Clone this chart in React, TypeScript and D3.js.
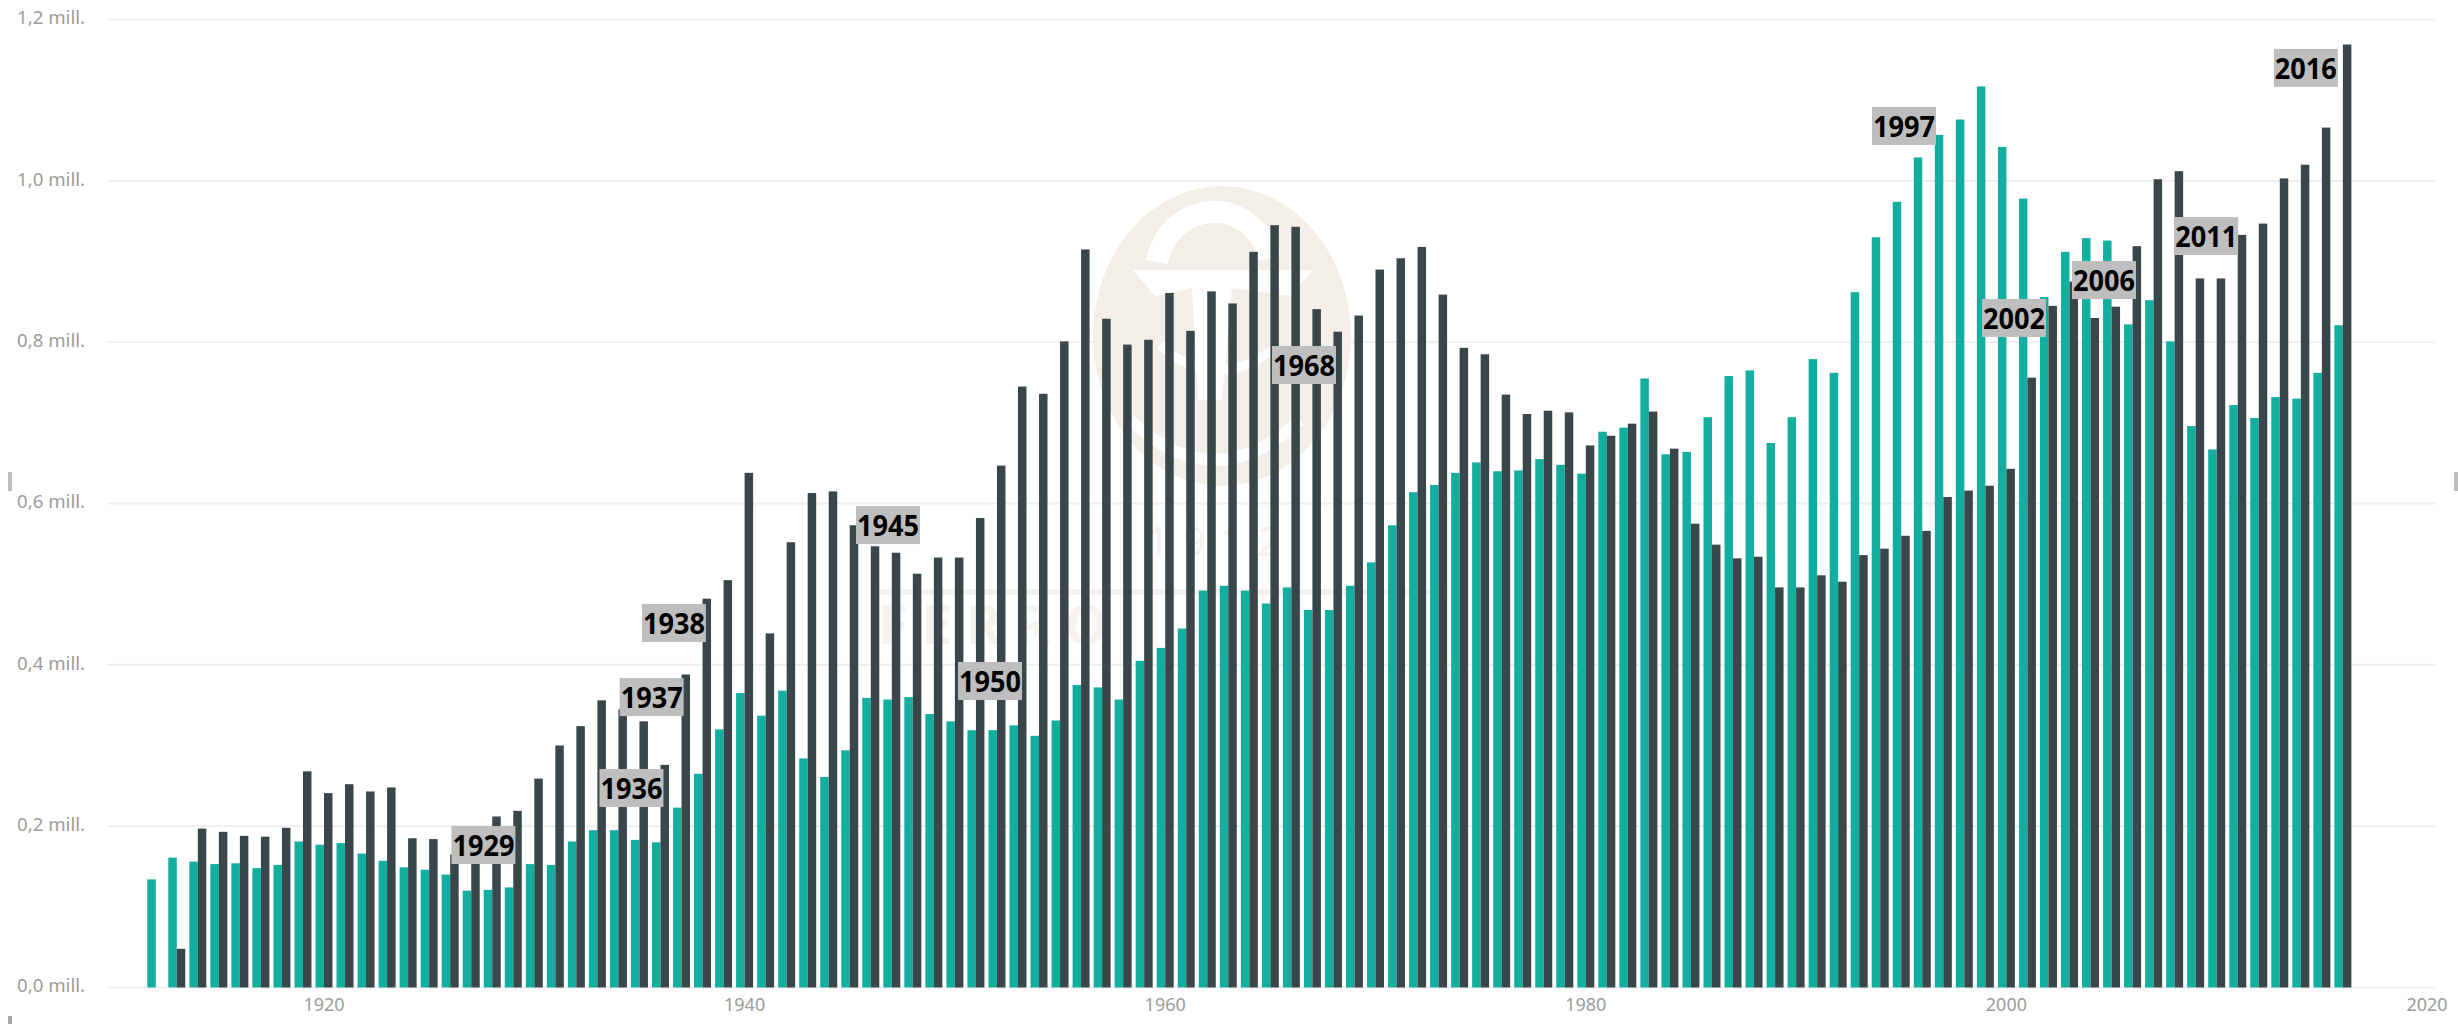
import React from "react";
import * as d3 from "d3";

const firstYear = 1912;
const tealValues = [
  0.134, 0.161, 0.156, 0.153, 0.154, 0.148, 0.152, 0.181, 0.177, 0.179,
  0.166, 0.157, 0.149, 0.146, 0.140, 0.120, 0.121, 0.124, 0.153, 0.152,
  0.181, 0.195, 0.195, 0.183, 0.180, 0.223, 0.265, 0.320, 0.365, 0.337,
  0.368, 0.284, 0.261, 0.294, 0.359, 0.357, 0.360, 0.339, 0.330, 0.319,
  0.319, 0.325, 0.312, 0.331, 0.375, 0.372, 0.357, 0.405, 0.421, 0.445,
  0.492, 0.498, 0.492, 0.476, 0.496, 0.468, 0.468, 0.498, 0.527, 0.573,
  0.614, 0.623, 0.638, 0.651, 0.640, 0.641, 0.655, 0.648, 0.637, 0.689,
  0.694, 0.755, 0.661, 0.664, 0.707, 0.758, 0.765, 0.675, 0.707,
  0.779, 0.762, 0.862, 0.930, 0.974, 1.029, 1.057, 1.076, 1.117, 1.042,
  0.978, 0.856, 0.912, 0.929, 0.926, 0.822, 0.852, 0.801, 0.696, 0.667,
  0.722, 0.706, 0.732, 0.730, 0.762, 0.821,
];
const darkValues = [
  0, 0.048, 0.197, 0.193, 0.188, 0.187, 0.198, 0.268, 0.241, 0.252,
  0.243, 0.248, 0.185, 0.184, 0.165, 0.178, 0.212, 0.219, 0.259, 0.300,
  0.324, 0.356, 0.345, 0.330, 0.276, 0.388, 0.482, 0.505, 0.638, 0.439,
  0.552, 0.613, 0.615, 0.573, 0.547, 0.539, 0.513, 0.533, 0.533, 0.582,
  0.647, 0.745, 0.736, 0.801, 0.915, 0.829, 0.797, 0.803, 0.861, 0.814,
  0.863, 0.848, 0.912, 0.945, 0.943, 0.841, 0.813, 0.833, 0.890, 0.904,
  0.918, 0.859, 0.793, 0.785, 0.735, 0.711, 0.715, 0.713, 0.672, 0.684,
  0.699, 0.714, 0.668, 0.575, 0.549, 0.532, 0.534, 0.496, 0.496, 0.511,
  0.503, 0.536, 0.544, 0.560, 0.566, 0.608, 0.616, 0.622, 0.643, 0.756,
  0.845, 0.875, 0.830, 0.844, 0.919, 1.002, 1.012, 0.879, 0.879, 0.933,
  0.947, 1.003, 1.020, 1.066, 1.169,
];
const yTicks = [0, 0.2, 0.4, 0.6, 0.8, 1.0, 1.2];
const xTicks = [1920, 1940, 1960, 1980, 2000, 2020];
const noteLabels = ["1929", "1936", "1937", "1938", "1945", "1950", "1968", "1997", "2002", "2006", "2011", "2016"];
const noteYears = [1927.58, 1934.62, 1935.58, 1936.64, 1946.82, 1951.67, 1966.6, 1995.13, 2000.36, 2004.64, 2009.5, 2014.24];
const noteValues = [0.1766, 0.2473, 0.36, 0.4518, 0.5733, 0.38, 0.7717, 1.068, 0.83, 0.877, 0.9316, 1.14];

const TEAL = "#12AFA1";
const DARK = "#3A474A";
const GREY = "#9C9C9C";
const FONT = "'Noto Sans', 'Open Sans', sans-serif";

const x = d3.scaleLinear().domain([1920, 2020]).range([324, 2427]);
const y = d3.scaleLinear().domain([0, 1.2]).range([987.5, 19.5]);
const inner = d3.scaleBand<string>().domain(["teal", "dark"]).range([-8.5, 8.5]);
const yearOf = (i: number) => firstYear + i;

function Watermark() {
  return (
    <g>
      <ellipse cx={1222} cy={336} rx={129} ry={150} fill="#F3EEE7" />
      <path d="M1157 262 A58 62 0 0 1 1270 258" fill="none" stroke="#fff" strokeWidth={22} />
      <path d="M1133 270 L1313 270 L1290 296 L1232 288 L1222 400 L1198 400 L1192 288 L1155 296 Z" fill="#fff" />
      <path d="M1130 420 Q1215 500 1300 420" fill="none" stroke="#fff" strokeWidth={12} />
      <path d="M1160 345 Q1215 395 1280 345" fill="none" stroke="#fff" strokeWidth={9} />
      <text x={1220} y={556} textAnchor="middle" fontFamily={FONT} fontSize={40} letterSpacing={14} fill="#F5F2EE">1912</text>
      <rect x={878} y={589} width={570} height={6} fill="#F5F2EE" />
      <text x={878} y={644} fontFamily={FONT} fontSize={54} fontWeight={700} letterSpacing={14} fill="#F6F3EF">FERRO</text>
    </g>
  );
}

export default function App() {
  return (
    <svg
      width={2458}
      height={1024}
      viewBox="0 0 2458 1024"
      style={{ position: "absolute", left: 0, top: 0, display: "block", background: "#fff" }}
    >
      <g>
        {yTicks.map((t) => (
          <rect key={t} x={107} y={y(t) - 1} width={2328} height={2} fill="#EFEFEF" />
        ))}
      </g>
      <Watermark />
      <g fontFamily={FONT} fontSize={18} fill={GREY}>
        {yTicks.map((t) => (
          <text key={t} x={17} y={y(t)} dominantBaseline="middle" textLength={68} lengthAdjust="spacingAndGlyphs">
            {`${t.toFixed(1).replace(".", ",")} mill.`}
          </text>
        ))}
        {xTicks.map((t) => (
          <text key={t} x={x(t)} y={1011} textAnchor="middle">{t}</text>
        ))}
      </g>
      <g fill={TEAL}>
        {tealValues.map((v, i) => (
          <rect key={i} x={x(yearOf(i)) + inner("teal")!} y={y(v)} width={inner.bandwidth()} height={y(0) - y(v)} />
        ))}
      </g>
      <g fill={DARK}>
        {darkValues.map((v, i) => (
          <rect key={i} x={x(yearOf(i)) + inner("dark")!} y={y(v)} width={inner.bandwidth()} height={y(0) - y(v)} />
        ))}
      </g>
      <g>
        {noteLabels.map((label, i) => {
          const cx = x(noteYears[i]);
          const cy = y(noteValues[i]);
          return (
            <g key={label}>
              <rect x={cx - 32} y={cy - 19} width={64} height={38} fill="#BEBEBE" />
              <text
                x={cx}
                y={cy + 3}
                textAnchor="middle"
                dominantBaseline="middle"
                fontFamily={FONT}
                fontWeight={700}
                fontSize={29}
                fill="#000"
                textLength={62}
                lengthAdjust="spacingAndGlyphs"
              >
                {label}
              </text>
            </g>
          );
        })}
      </g>
      <rect x={8} y={472} width={4} height={19} fill="#BDBDBD" />
      <rect x={2454} y={472} width={4} height={19} fill="#BDBDBD" />
      <rect x={8} y={1016} width={4} height={8} fill="#A8A8A8" />
    </svg>
  );
}
